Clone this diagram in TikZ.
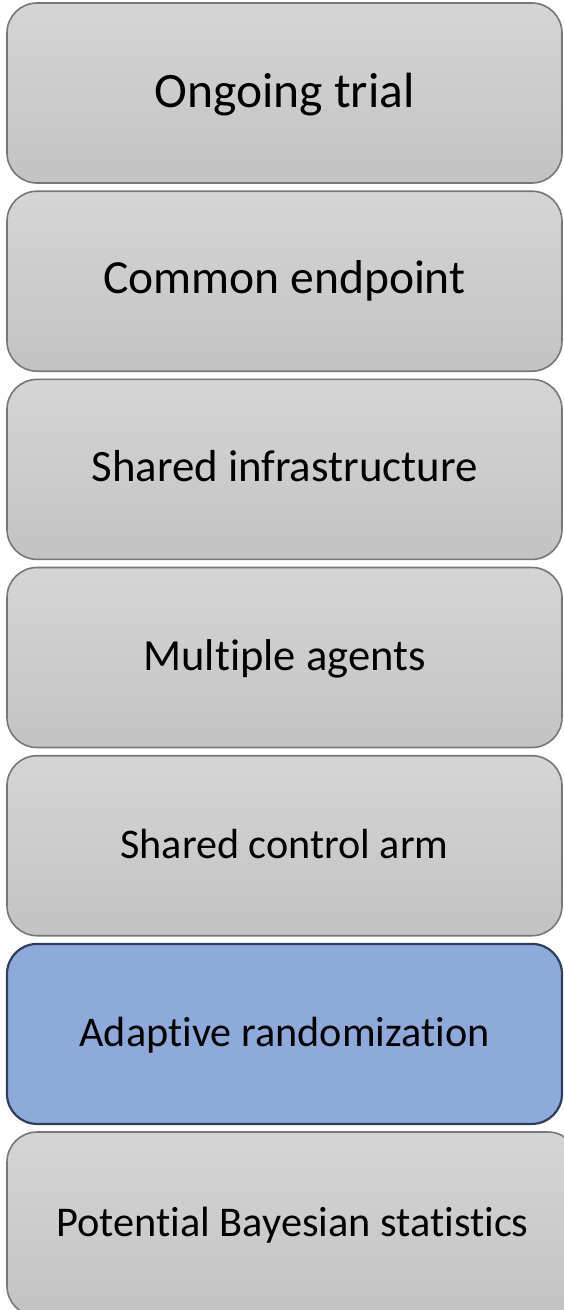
\documentclass[tikz,border=0pt]{standalone}
\usepackage{fontspec}
\setmainfont{Carlito}[Ligatures=CommonOff]
\definecolor{boxtop}{HTML}{D5D5D5}
\definecolor{boxbot}{HTML}{C3C3C3}
\definecolor{boxline}{HTML}{777777}
\definecolor{bluefill}{HTML}{8EAADB}
\definecolor{blueline}{HTML}{2F3E5C}
\newcommand\boxtext[2]{\resizebox{#1pt}{!}{#2}}
\tikzset{
  stagebase/.style={rounded corners=30pt, minimum width=555pt, minimum height=180pt,
    inner sep=0pt, outer sep=0pt, text depth=0pt, text height=25pt, anchor=north west, text=black},
  stage/.style={stagebase, draw=boxline, line width=1.6pt, top color=boxtop, bottom color=boxbot},
  hilite/.style={stagebase, draw=blueline, line width=2.2pt, fill=bluefill},
}
\begin{document}
\begin{tikzpicture}[x=1pt,y=-1pt]
\useasboundingbox (0,0) rectangle (564,1310);
\clip (0,0) rectangle (564,1310);
\node[stage, text height=28pt] (b1) at (7,3) {\boxtext{260}{Ongoing trial}};
\node[stage] (b2) at (7,191.2) {\boxtext{362}{Common endpoint}};
\node[stage] (b3) at (7,379.4) {\boxtext{386}{Shared infrastructure}};
\node[stage] (b4) at (7,567.5) {\boxtext{282}{Multiple agents}};
\node[stage] (b5) at (7,755.7) {\boxtext{328}{Shared control arm}};
\node[hilite] (b6) at (7,943.9) {\boxtext{410}{Adaptive randomization}};
\node[stage, minimum width=571pt, minimum height=184pt] (b7) at (7,1132) {\boxtext{472}{Potential Bayesian statistics}};
\end{tikzpicture}
\end{document}
